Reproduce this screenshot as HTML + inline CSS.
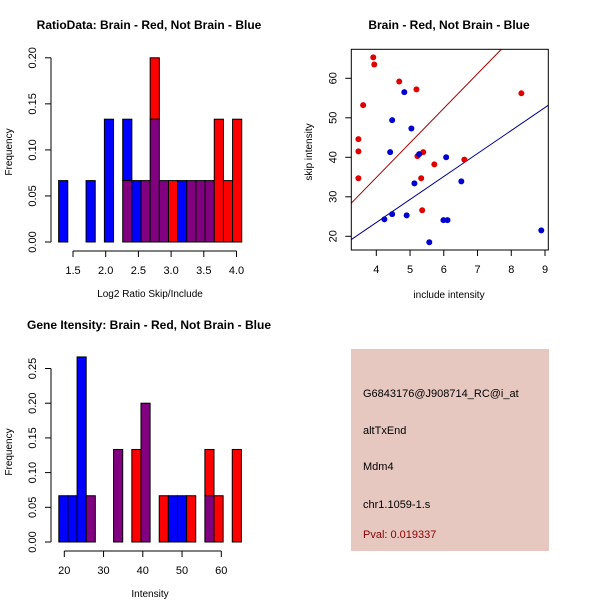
<!DOCTYPE html>
<html><head><meta charset="utf-8"><style>
body{margin:0;background:#fff}
svg{display:block;font-family:"Liberation Sans",sans-serif}
</style></head><body>
<svg id="s" width="600" height="600" xmlns="http://www.w3.org/2000/svg">
<rect width="600" height="600" fill="#fff"/>
<g id="p1"></g>
<g id="p2"></g>
<g id="p3"></g>
<g>
<rect x="351" y="349" width="198" height="202" fill="#e6c8c0"/>
<text x="363" y="397" font-size="11" fill="#000">G6843176@J908714_RC@i_at</text>
<text x="363" y="434" font-size="11" fill="#000">altTxEnd</text>
<text x="363" y="470" font-size="11" fill="#000">Mdm4</text>
<text x="363" y="508" font-size="11" fill="#000">chr1.1059-1.s</text>
<text x="363" y="538" font-size="11" fill="#8b0000">Pval: 0.019337</text>
</g>
</svg>
<script>
// Plot 1 data (counts per bin, n=15 each)
const h1Start = 1.28, h1Width = 0.14;
const h1Red  = [0,0,0,0,0,0,0,1,0,1,3,1,1,0,1,1,1,2,1,2];
const h1Blue = [1,0,0,1,0,2,0,2,1,1,2,1,0,1,1,1,1,0,0,0];
const h1XTicks = [1.5,2.0,2.5,3.0,3.5,4.0];
const h1YTicks = [0,0.05,0.10,0.15,0.20];
// Plot 3 data
const h3Start = 18.6, h3Width = 2.326;
const h3Red  = [0,0,0,1,0,0,2,0,2,3,0,1,0,0,1,0,2,1,0,2];
const h3Blue = [1,1,4,1,0,0,2,0,0,3,0,0,1,1,0,0,1,0,0,0];
const h3XTicks = [20,30,40,50,60];
const h3YTicks = [0,0.05,0.10,0.15,0.20,0.25];
// Scatter data
const redX = [3.91,3.94,4.68,3.61,5.19,8.30,3.47,3.47,3.47,5.22,5.39,5.72,6.61,5.33,5.36];
const redY = [65.3,63.5,59.2,53.2,57.2,56.2,44.6,41.5,34.7,40.3,41.3,38.2,39.4,34.7,26.6];
const blueX = [4.83,4.47,5.04,4.41,5.27,6.07,5.13,6.52,4.24,4.47,4.90,5.99,6.11,5.57,8.89];
const blueY = [56.5,49.4,47.3,41.3,40.8,40.0,33.4,33.9,24.3,25.6,25.3,24.1,24.1,18.5,21.5];
const redLine = [-0.16, 8.76];
const blueLine = [0.22, 5.82];
const scXTicks = [4,5,6,7,8,9];
const scYTicks = [20,30,40,50,60];

const NS="http://www.w3.org/2000/svg";
function mk(parent,tag,attrs,txt){const e=document.createElementNS(NS,tag);for(const k in attrs)e.setAttribute(k,attrs[k]);if(txt!=null)e.textContent=txt;parent.appendChild(e);return e;}

function hist(g,o){
  const sx=v=>o.x0+(v-o.xv0)*o.xs, sy=v=>o.y0-v*o.ys;
  const n=o.n;
  for(let i=0;i<o.red.length;i++){
    const r=o.red[i]/n,b=o.blue[i]/n, lo=Math.min(r,b), hi=Math.max(r,b);
    const xa=sx(o.start+i*o.w), xb=sx(o.start+(i+1)*o.w);
    if(hi>lo){const e=mk(g,'rect',{x:xa,y:sy(hi),width:xb-xa,height:sy(lo)-sy(hi),fill:r>b?'#ff0000':'#0000ff',stroke:'#000','stroke-width':1});
      
      }
    if(lo>0){const e=mk(g,'rect',{x:xa,y:sy(lo),width:xb-xa,height:sy(0)-sy(lo),fill:'#800080',stroke:'#000','stroke-width':1});
      
      }
  }
  const ax=mk(g,'g',{});
  
  
  const yt=o.yt;
  mk(ax,'line',{x1:o.ax,x2:o.ax,y1:sy(yt[0]),y2:sy(yt[yt.length-1]),stroke:'#000'});
  yt.forEach(t=>{mk(ax,'line',{x1:o.ax-6,x2:o.ax,y1:sy(t),y2:sy(t),stroke:'#000'});
    const tx=o.ax-15,ty=sy(t);mk(ax,'text',{x:tx,y:ty,'font-size':11,'text-anchor':'middle',transform:`rotate(-90 ${tx} ${ty})`},t.toFixed(2));});
  const bx=mk(g,'g',{});
  
  
  const xt=o.xt, ay=o.y0+9;
  mk(bx,'line',{x1:sx(xt[0]),x2:sx(xt[xt.length-1]),y1:ay,y2:ay,stroke:'#000'});
  xt.forEach(t=>{mk(bx,'line',{x1:sx(t),x2:sx(t),y1:ay,y2:ay+6,stroke:'#000'});
    mk(bx,'text',{x:sx(t),y:ay+23,'font-size':11,'text-anchor':'middle'},o.fmt(t));});
  const yl=mk(g,'text',{x:12,y:o.y0-90,'font-size':10,'text-anchor':'middle',transform:`rotate(-90 12 ${o.y0-90})`},'Frequency');
  
  
  const xl=mk(g,'text',{x:150,y:o.y0+55,'font-size':10,'text-anchor':'middle'},o.xlab);
  
  
  const ti=mk(g,'text',{x:o.tx,y:o.y0-213,'font-size':12,'font-weight':'bold','text-anchor':'middle'},o.title);
  
  
}
hist(document.getElementById('p1'),{red:h1Red,blue:h1Blue,n:15,start:h1Start,w:h1Width,x0:73,xv0:1.5,xs:65.4,y0:242,ys:921,ax:51,yt:h1YTicks,xt:h1XTicks,fmt:t=>t.toFixed(1),xlab:'Log2 Ratio Skip/Include',title:'RatioData: Brain - Red, Not Brain - Blue',tx:149});
hist(document.getElementById('p3'),{red:h3Red,blue:h3Blue,n:15,start:h3Start,w:h3Width,x0:64.3,xv0:20,xs:3.925,y0:542,ys:694,ax:51,yt:h3YTicks,xt:h3XTicks,fmt:t=>String(t),xlab:'Intensity',title:'Gene Itensity: Brain - Red, Not Brain - Blue',tx:149});

(function(){
  const g=document.getElementById('p2');
  const L=351.3,R=548.3,T=49.3,B=250;
  const sx=v=>376.3+(v-4)*33.74, sy=v=>236.3-(v-20)*3.95;
  const cp=mk(g,'clipPath',{id:'clip2'});mk(cp,'rect',{x:L,y:T,width:R-L,height:B-T});
  [[redLine,'#a00000','fit-line-red'],[blueLine,'#00008b','fit-line-blue']].forEach(([c,col,nm])=>{
    const xa=3.0,xb=9.5;
    const e=mk(g,'line',{x1:sx(xa),y1:sy(c[0]+c[1]*xa),x2:sx(xb),y2:sy(c[0]+c[1]*xb),stroke:col,'clip-path':'url(#clip2)'});
    
    
  });
  redX.forEach((x,i)=>{const e=mk(g,'circle',{cx:sx(x),cy:sy(redY[i]),r:3,fill:'#e00000'});
    
    });
  blueX.forEach((x,i)=>{const e=mk(g,'circle',{cx:sx(x),cy:sy(blueY[i]),r:3,fill:'#0000d0'});
    
    });
  const box=mk(g,'rect',{x:L,y:T,width:R-L,height:B-T,fill:'none',stroke:'#000'});
  
  
  scXTicks.forEach(t=>{mk(g,'line',{x1:sx(t),x2:sx(t),y1:B,y2:B+6,stroke:'#000'});
    mk(g,'text',{x:sx(t),y:B+23,'font-size':11,'text-anchor':'middle'},String(t));});
  scYTicks.forEach(t=>{mk(g,'line',{x1:L-6,x2:L,y1:sy(t),y2:sy(t),stroke:'#000'});
    const tx=L-15,ty=sy(t);mk(g,'text',{x:tx,y:ty,'font-size':11,'text-anchor':'middle',transform:`rotate(-90 ${tx} ${ty})`},String(t));});
  const xl=mk(g,'text',{x:449,y:298,'font-size':10,'text-anchor':'middle'},'include intensity');
  
  
  const yl=mk(g,'text',{x:312,y:152,'font-size':10,'text-anchor':'middle',transform:'rotate(-90 312 152)'},'skip intensity');
  
  
  const ti=mk(g,'text',{x:449,y:29,'font-size':12,'font-weight':'bold','text-anchor':'middle'},'Brain - Red, Not Brain - Blue');
  
  
})();
</script>
</body></html>
